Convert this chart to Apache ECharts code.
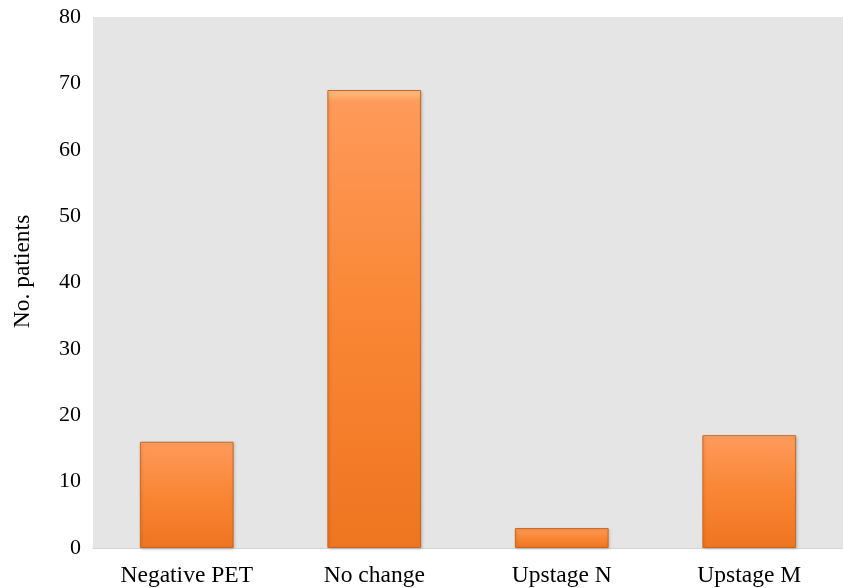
<!DOCTYPE html>
<html>
<head>
<meta charset="utf-8">
<script src="https://cdn.jsdelivr.net/npm/echarts@6/dist/echarts.min.js"></script>
<style>
  html, body { margin: 0; padding: 0; background: #ffffff; }
  #chart { width: 843px; height: 588px; }
</style>
</head>
<body>
<div id="chart"></div>
<script>
// Stage change after PET
const categories = ['Negative PET', 'No change', 'Upstage N', 'Upstage M'];
const patients = [16, 69, 3, 17];
const yTicks = { min: 0, max: 80, interval: 10 };
const yTitle = 'No. patients';

const chart = echarts.init(document.getElementById('chart'), null, { renderer: 'canvas' });
const font = '"Liberation Serif", "Times New Roman", serif';

chart.setOption({
  animation: false,
  grid: {
    left: 93, right: 0, top: 17, bottom: 40,
    show: true, backgroundColor: '#e5e5e5', borderWidth: 0
  },
  xAxis: {
    type: 'category',
    data: categories,
    axisLine: { show: true, lineStyle: { color: '#d4d4d4', width: 1 } },
    axisTick: { show: false },
    axisLabel: { color: '#000', fontFamily: font, fontSize: 23.5, margin: 16 }
  },
  yAxis: {
    type: 'value',
    min: yTicks.min, max: yTicks.max, interval: yTicks.interval,
    name: yTitle,
    nameLocation: 'middle',
    nameGap: 58,
    nameRotate: 90,
    nameTextStyle: { color: '#000', fontFamily: font, fontSize: 23.5, padding: [0, 0, 0, 22] },
    axisLine: { show: false },
    axisTick: { show: false },
    splitLine: { show: false },
    axisLabel: { color: '#000', fontFamily: font, fontSize: 22, margin: 12 }
  },
  series: [{
    type: 'bar',
    data: patients,
    barWidth: '50%',
    itemStyle: {
      color: new echarts.graphic.LinearGradient(0, 0, 0, 1, [
        { offset: 0, color: '#ffc48a' },
        { offset: 0.012, color: '#fdb070' },
        { offset: 0.025, color: '#fe9a5a' },
        { offset: 0.5, color: '#f98634' },
        { offset: 1, color: '#ef7520' }
      ]),
      borderColor: '#c9661f',
      borderWidth: 1,
      shadowColor: 'rgba(0,0,0,0.18)',
      shadowBlur: 3,
      shadowOffsetX: 1,
      shadowOffsetY: 1
    }
  }]
});
</script>
</body>
</html>
